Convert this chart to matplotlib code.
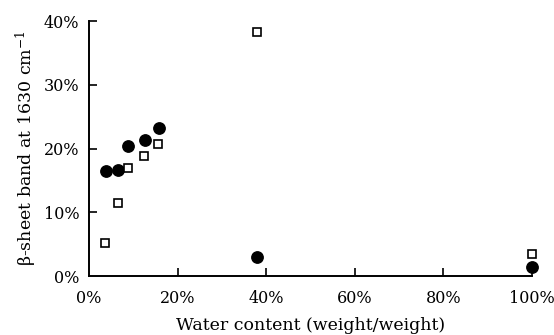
import matplotlib
matplotlib.use("Agg")
import matplotlib.pyplot as plt
from matplotlib.ticker import FuncFormatter

plt.rcParams['font.family'] = 'DejaVu Serif'
plt.rcParams['mathtext.fontset'] = 'dejavuserif'

# water content (% w/w) and beta-sheet band fraction (%)
water_circles = [3.8, 6.6, 8.7, 12.7, 15.8, 38.0, 100.0]
beta_circles = [16.4, 16.7, 20.4, 21.4, 23.2, 3.0, 1.4]

water_squares = [3.7, 6.6, 8.8, 12.5, 15.5, 38.0, 100.0]
beta_squares = [5.1, 11.4, 17.0, 18.9, 20.7, 38.3, 3.4]

xticks = [0, 20, 40, 60, 80, 100]
yticks = [0, 10, 20, 30, 40]

fig = plt.figure(figsize=(5.54, 3.35), dpi=100)
ax = fig.add_axes([0.1606, 0.1761, 0.7997, 0.7612])

ax.plot(water_circles, beta_circles, 'o', color='black', markersize=8.2, zorder=5, clip_on=False)
ax.plot(water_squares, beta_squares, 's', markerfacecolor='white', markeredgecolor='black',
        markeredgewidth=1.2, markersize=6.3, zorder=5, clip_on=False)

ax.set_xlim(0.5, 100)
ax.set_ylim(0, 40)
ax.set_xticks(xticks)
ax.set_yticks(yticks)
pct = FuncFormatter(lambda v, p: f"{v:.0f}%")
ax.xaxis.set_major_formatter(pct)
ax.yaxis.set_major_formatter(pct)

for s in ['top', 'right']:
    ax.spines[s].set_visible(False)
for s in ['left', 'bottom']:
    ax.spines[s].set_linewidth(1.4)

ax.tick_params(direction='in', length=6, width=1.2, labelsize=11.5, pad=7)
ax.tick_params(axis='x', pad=10)

# no tick marks at the origin
ax.xaxis.get_major_ticks()[0].tick1line.set_visible(False)
ax.yaxis.get_major_ticks()[0].tick1line.set_visible(False)

ax.set_xlabel("Water content (weight/weight)", fontsize=12.5, labelpad=7)
ax.set_ylabel("β-sheet band at 1630 cm$^{-1}$", fontsize=12.5, labelpad=3)

fig.savefig("out.png", dpi=100)
